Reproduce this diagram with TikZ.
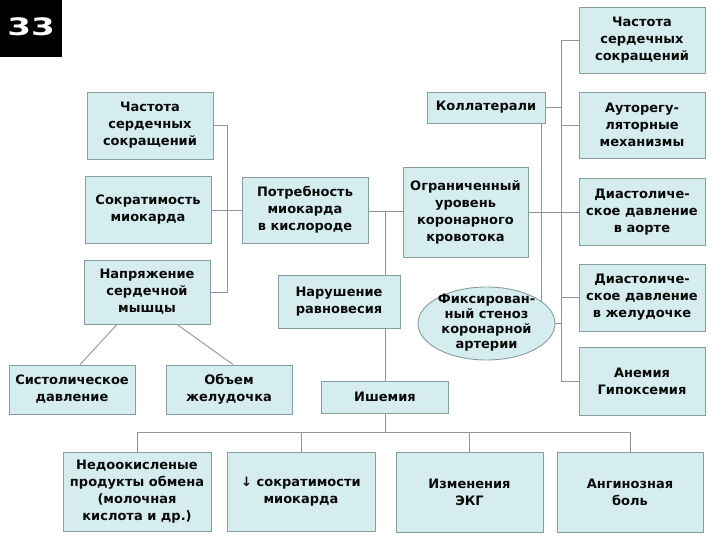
\documentclass[tikz,border=0pt]{standalone}
\usepackage{fontspec}
\setmainfont{DejaVu Sans}
\usepackage{graphicx}
\usetikzlibrary{shapes.geometric,backgrounds,calc}
\definecolor{boxfill}{RGB}{214,237,239}
\definecolor{boxedge}{RGB}{135,158,160}
\definecolor{linec}{RGB}{145,150,150}
\definecolor{txt}{RGB}{10,10,10}
\begin{document}
\begin{tikzpicture}[x=1pt,y=-1pt,
  box/.style={draw=boxedge, line width=0.9pt, fill=boxfill, align=center,
    font=\fontsize{13}{17}\selectfont\bfseries, text=txt, inner sep=0pt},
  conn/.style={draw=linec, line width=0.9pt},
  eltext/.style={align=center, font=\fontsize{13}{15}\selectfont\bfseries, text=txt, inner sep=0pt}]
\useasboundingbox (0,0) rectangle (720,540);

% number badge
\node[fill=black, minimum width=62pt, minimum height=57pt, anchor=north west, inner sep=0pt] (badge) at (0,0) {};
\node[text=white, font=\fontsize{24}{24}\selectfont\bfseries, inner sep=0pt] (badgetxt) at (31,27) {\scalebox{1.42}[1]{33}};

% left column
\node[box, minimum width=126pt, minimum height=67pt] (hrL) at (150,125.5) {Частота\\сердечных\\сокращений};
\node[box, minimum width=126pt, minimum height=67pt] (sokr) at (148,210) {Сократимость\\миокарда};
\node[box, minimum width=126pt, minimum height=64pt] (napr) at (147,292) {Напряжение\\сердечной\\мышцы};
\node[box, minimum width=126pt, minimum height=49pt] (sist) at (72,389.5) {Систолическое\\давление};
\node[box, minimum width=126pt, minimum height=49pt] (obem) at (229,389.5) {Объем\\желудочка};

% middle
\node[box, minimum width=126pt, minimum height=66pt] (potr) at (305,210) {Потребность\\миокарда\\в кислороде};
\node[box, minimum width=122pt, minimum height=53pt] (narush) at (339,301.5) {Нарушение\\равновесия};
\node[box, minimum width=127pt, minimum height=32pt] (ishem) at (385,397) {Ишемия};
\node[box, minimum width=125pt, minimum height=90pt] (ogr) at (465.5,212) {Ограниченный\\уровень\\коронарного\\кровотока};
\node[box, minimum width=118pt, minimum height=31pt] (koll) at (486,107.5) {Коллатерали};
\node[ellipse, draw=boxedge, line width=0.9pt, fill=boxfill, minimum width=137pt, minimum height=73pt, inner sep=0pt] (fix) at (486.5,323.5) {};
\node[eltext] (fixt) at (486.5,323) {Фиксирован-\\ный стеноз\\коронарной\\артерии};

% right column
\node[box, minimum width=126pt, minimum height=66pt] (R1) at (642,40) {Частота\\сердечных\\сокращений};
\node[box, minimum width=126pt, minimum height=66pt] (R2) at (642,125) {Ауторегу-\\ляторные\\механизмы};
\node[box, minimum width=126pt, minimum height=67pt] (R3) at (642,212) {Диастоличе-\\ское давление\\в аорте};
\node[box, minimum width=126pt, minimum height=67pt] (R4) at (642,297.5) {Диастоличе-\\ское давление\\в желудочке};
\node[box, minimum width=126pt, minimum height=68pt] (R5) at (642,381) {Анемия\\Гипоксемия};

% bottom row
\node[box, minimum width=148pt, minimum height=79pt] (b1) at (137,491.5) {Недоокисленые\\продукты обмена\\(молочная\\кислота и др.)};
\node[box, minimum width=148pt, minimum height=79pt] (b2) at (301,491.5) {↓ сократимости\\миокарда};
\node[box, minimum width=147pt, minimum height=80pt] (b3) at (469.5,492) {Изменения\\ЭКГ};
\node[box, minimum width=146pt, minimum height=80pt] (b4) at (630,492) {Ангинозная\\боль};

% helper coordinates
\coordinate (lx) at (227,0);
\coordinate (jx) at (385,0);
\coordinate (kx) at (541,0);
\coordinate (rx) at (561,0);
\coordinate (by) at (0,432);
\coordinate (py) at (0,211);

\begin{scope}[on background layer]
\fill[white] (0,0) rectangle (720,540);
\draw[conn] (hrL.east) -- (lx |- hrL.east) -- (lx |- napr.east) -- (napr.east);
\draw[conn] (sokr.east) -- (sokr.east -| potr.west);
\draw[conn] (potr.east |- py) -- (ogr.west |- py);
\draw[conn] (jx |- py) -- (jx |- narush.north);
\draw[conn] (jx |- narush.south) -- (jx |- ishem.north);
\draw[conn] (ishem.south) -- (ishem.south |- by);
\draw[conn] (b1.north) -- (b1.north |- by) -- (b4.north |- by) -- (b4.north);
\draw[conn] (b2.north) -- (b2.north |- by);
\draw[conn] (b3.north) -- (b3.north |- by);
\draw[conn] ($(napr.south)+(-30,0)$) -- ($(sist.north)+(8,0)$);
\draw[conn] ($(napr.south)+(30,0)$) -- ($(obem.north)+(4,0)$);
\draw[conn] (koll.east) -- (rx |- koll.east);
\draw[conn] (kx |- koll.south) -- (kx |- fix.center);
\draw[conn] (R1.west) -- (rx |- R1.west) -- (rx |- R5.west) -- (R5.west);
\draw[conn] (R2.west) -- (rx |- R2.west);
\draw[conn] (R4.west) -- (rx |- R4.west);
\draw[conn] (fix.east) -- (rx |- fix.east);
\draw[conn] (ogr.east) -- (R3.west);
\end{scope}
\end{tikzpicture}
\end{document}
